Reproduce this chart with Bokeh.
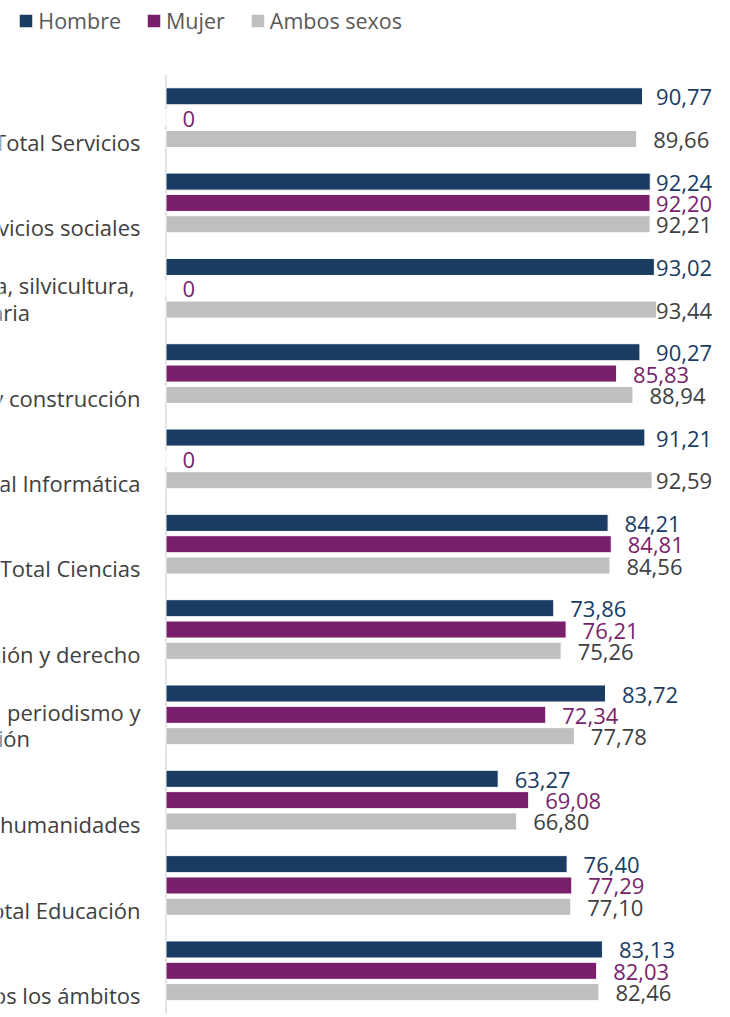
from bokeh.plotting import figure
from bokeh.models import ColumnDataSource, Range1d, Legend, LegendItem
from bokeh.core.properties import value
from bokeh.embed import file_html
from bokeh.resources import INLINE

# ---- data ----
categories = [
    "Total Servicios",
    "Total Salud y servicios sociales",
    "Total Agricultura, ganadería,  silvicultura,\npesca y veterinaria",
    "Total Ingeniería, industria y construcción",
    "Total Informática",
    "Total Ciencias",
    "Total Negocios, administración y derecho",
    "Total Ciencias sociales, periodismo y\ndocumentación",
    "Total Artes y humanidades",
    "Total Educación",
    "Todos los ámbitos",
]
series_names = ["Hombre", "Mujer", "Ambos sexos"]
hombre = [90.77, 92.24, 93.02, 90.27, 91.21, 84.21, 73.86, 83.72, 63.27, 76.40, 83.13]
mujer = [0, 92.20, 0, 85.83, 0, 84.81, 76.21, 72.34, 69.08, 77.29, 82.03]
ambos = [89.66, 92.21, 93.44, 88.94, 92.59, 84.56, 75.26, 77.78, 66.80, 77.10, 82.46]

# ---- style ----
bar_colors = ["#1A3C63", "#7A1F6B", "#BFBFBF"]
label_colors = ["#1A3C63", "#7A1F6B", "#404040"]
FONT = "Open Sans"
FS = "22px"
SLOTS = 4          # 3 bars + gap per group
LABEL_CAP = 90.2   # value labels are pushed no further right than this

W, H = 730, 1017
p = figure(width=W, height=H, output_backend="svg", toolbar_location=None,
           x_range=Range1d(-31.52, 107.52), y_range=Range1d(43.19, -4.491),
           x_axis_type=None, y_axis_type=None, min_border=0)
p.outline_line_color = None
p.xgrid.visible = False
p.ygrid.visible = False

n = len(categories)
# axis line at zero spanning the category band
p.segment(x0=[0], x1=[0], y0=[-1], y1=[n * SLOTS - 1], line_color="#D9D9D9", line_width=1.5)

renderers = []
for j, (name, vals) in enumerate(zip(series_names, [hombre, mujer, ambos])):
    ys = [SLOTS * i + j for i in range(n)]
    src = ColumnDataSource(dict(
        y=ys, v=vals,
        lx=[min(v, LABEL_CAP) for v in vals],
        txt=["0" if v == 0 else f"{v:.2f}".replace(".", ",") for v in vals],
    ))
    r = p.hbar(y="y", left=0, right="v", height=0.8, source=src,
               fill_color=bar_colors[j], line_color="white", line_width=1)
    renderers.append(r)
    p.text(x="lx", y="y", text="txt", source=src, x_offset=16.5, y_offset=1,
           text_align="left", text_baseline="middle",
           text_font=value(FONT), text_font_size=value(FS),
           text_color=label_colors[j])

# category labels (right aligned, left part cut off at the page edge)
last_y, last_t = [], []
first_y, first_t = [], []
single = []
for i, c in enumerate(categories):
    lines = c.split("\n")
    base = SLOTS * i + 2
    single.append(len(lines) == 1)
    if len(lines) == 1:
        last_y.append(base); last_t.append(lines[0])
    else:
        first_y.append(base); first_t.append(lines[0])
        last_y.append(base); last_t.append(lines[1])
p.text(x=[0] * len(first_y), y=first_y, text=first_t, x_offset=-25.5, y_offset=-24.5,
       text_align="right", text_baseline="middle",
       text_font=value(FONT), text_font_size=value(FS), text_color="#404040")
xo = [-25.5 if s else -136 for s in single]
yo = [2.8 if s else 2.2 for s in single]
src_last = ColumnDataSource(dict(x=[0] * n, y=last_y, t=last_t, xo=xo, yo=yo))
p.text(x="x", y="y", text="t", source=src_last, x_offset="xo", y_offset="yo",
       text_align="right", text_baseline="middle",
       text_font=value(FONT), text_font_size=value(FS), text_color="#404040")

legend = Legend(items=[LegendItem(label=nm, renderers=[r]) for nm, r in zip(series_names, renderers)],
                orientation="horizontal", location=(17.3, H - 13 - 22),
                glyph_width=17, glyph_height=17, label_standoff=4, spacing=24,
                padding=0, margin=0, border_line_color=None, background_fill_alpha=0,
                label_text_font=FONT, label_text_font_size="21.5px", label_text_color="#595959",
                label_height=22)
p.add_layout(legend)

open("out.html", "w").write(file_html(p, INLINE))
